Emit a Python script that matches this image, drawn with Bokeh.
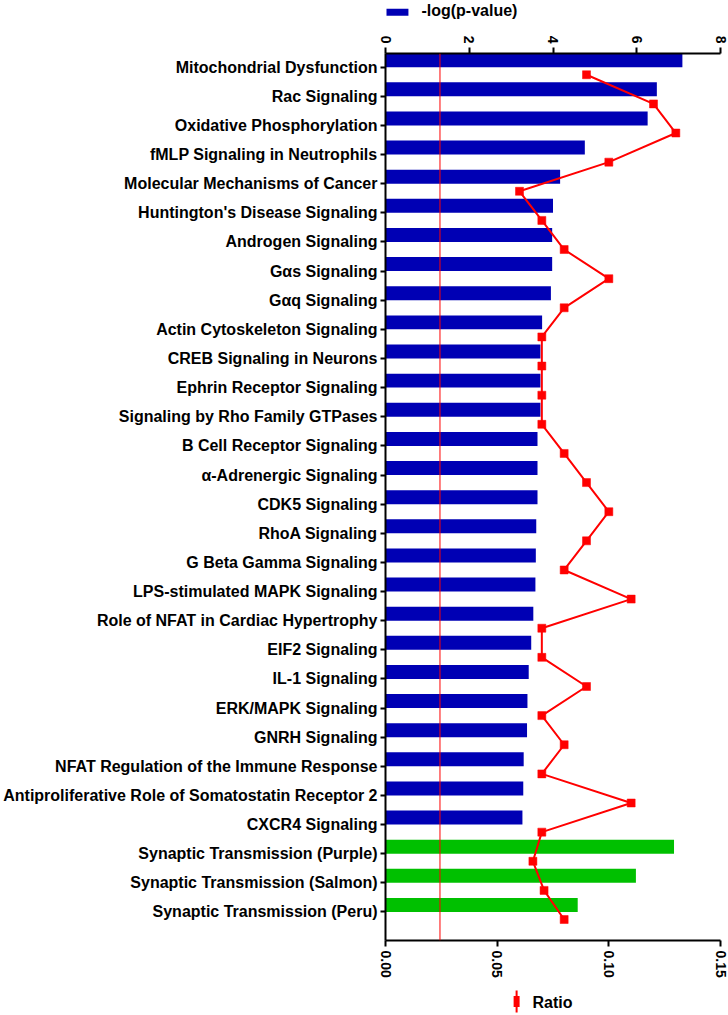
import math
import numpy as np
from bokeh.plotting import figure
from bokeh.models import Range1d, LinearAxis, FixedTicker, NumeralTickFormatter, Span, ColumnDataSource
from bokeh.layouts import column
from bokeh.embed import file_html
from bokeh.resources import INLINE
from bokeh.core.properties import value

# ---------------- data ----------------
pathways = [
    "Mitochondrial Dysfunction",
    "Rac Signaling",
    "Oxidative Phosphorylation",
    "fMLP Signaling in Neutrophils",
    "Molecular Mechanisms of Cancer",
    "Huntington's Disease Signaling",
    "Androgen Signaling",
    "G\u03b1s Signaling",
    "G\u03b1q Signaling",
    "Actin Cytoskeleton Signaling",
    "CREB Signaling in Neurons",
    "Ephrin Receptor Signaling",
    "Signaling by Rho Family GTPases",
    "B Cell Receptor Signaling",
    "\u03b1-Adrenergic Signaling",
    "CDK5 Signaling",
    "RhoA Signaling",
    "G Beta Gamma Signaling",
    "LPS-stimulated MAPK Signaling",
    "Role of NFAT in Cardiac Hypertrophy",
    "EIF2 Signaling",
    "IL-1 Signaling",
    "ERK/MAPK Signaling",
    "GNRH Signaling",
    "NFAT Regulation of the Immune Response",
    "Antiproliferative Role of Somatostatin Receptor 2",
    "CXCR4 Signaling",
    "Synaptic Transmission (Purple)",
    "Synaptic Transmission (Salmon)",
    "Synaptic Transmission (Peru)",
]
neg_log_p = [7.09, 6.48, 6.26, 4.76, 4.17, 4.00, 3.98, 3.98, 3.95, 3.74,
             3.70, 3.70, 3.70, 3.63, 3.63, 3.63, 3.60, 3.59, 3.58, 3.53,
             3.48, 3.42, 3.39, 3.38, 3.30, 3.29, 3.27, 6.89, 5.98, 4.59]
ratio = [0.09, 0.12, 0.13, 0.10, 0.06, 0.07, 0.08, 0.10, 0.08, 0.07,
         0.07, 0.07, 0.07, 0.08, 0.09, 0.10, 0.09, 0.08, 0.11, 0.07,
         0.07, 0.09, 0.07, 0.08, 0.07, 0.11, 0.07, 0.066, 0.071, 0.08]
kind = ["pathway"] * 27 + ["module"] * 3
threshold = 1.301  # -log10(0.05)
p_ticks = [0, 2, 4, 6, 8]
ratio_ticks = [0.0, 0.05, 0.10, 0.15]
legend_p = "-log(p-value)"
legend_ratio = "Ratio"

# ---------------- style ----------------
FONT = "Liberation Sans"
BLUE = "#0000B4"
GREEN = "#00C000"
RED = "#FF0000"
color_map = {"pathway": BLUE, "module": GREEN}

W = 728
BORDER_L = 384
BORDER_R = 8
TOP_LEG_H = 30
MAIN_H = 957
BOT_LEG_H = 26

n = len(pathways)
idx = np.arange(n)
src = ColumnDataSource(dict(
    y_bar=idx - 0.24,
    y_pt=idx + 0.26,
    nlp=neg_log_p,
    ratio=ratio,
    color=[color_map[k] for k in kind],
))

p = figure(width=W, height=MAIN_H, output_backend="svg", toolbar_location=None,
           x_range=Range1d(0, 8), y_range=Range1d(29.98, -0.47),
           x_axis_location="above",
           min_border_left=BORDER_L, min_border_right=BORDER_R,
           min_border_top=23, min_border_bottom=47)
p.extra_x_ranges = {"ratio": Range1d(0, 0.15)}
p.xgrid.visible = False
p.ygrid.visible = False
p.outline_line_color = None
p.background_fill_color = "white"
p.border_fill_color = "white"

p.hbar(y="y_bar", left=0, right="nlp", height=0.48, fill_color="color",
       line_color=None, source=src)
p.line(x="ratio", y="y_pt", x_range_name="ratio", line_color=RED,
       line_width=2, source=src)
p.scatter(x="ratio", y="y_pt", x_range_name="ratio", marker="square", size=8,
          fill_color=RED, line_color=RED, line_width=0.5, source=src)
p.add_layout(Span(location=threshold, dimension="height", line_color=RED,
                  line_width=1))

bottom = LinearAxis(x_range_name="ratio", ticker=FixedTicker(ticks=ratio_ticks),
                    formatter=NumeralTickFormatter(format="0.00"))
p.add_layout(bottom, "below")

top = p.xaxis[0]
top.ticker = FixedTicker(ticks=p_ticks)

for ax in (top, bottom):
    ax.major_label_orientation = -math.pi / 2
    ax.major_label_standoff = 4
    ax.major_tick_out = 6
    ax.major_tick_in = 0
    ax.minor_tick_out = 0
    ax.minor_tick_in = 0
    ax.axis_line_width = 2
    ax.major_tick_line_width = 2
    ax.major_label_text_font = FONT
    ax.major_label_text_font_style = "bold"
    ax.major_label_text_font_size = "14px"
    ax.major_label_text_color = "black"

ya = p.yaxis[0]
ya.ticker = FixedTicker(ticks=list(range(n)))
ya.major_label_overrides = {i: name for i, name in enumerate(pathways)}
ya.major_tick_out = 5
ya.major_tick_in = 0
ya.minor_tick_out = 0
ya.minor_tick_in = 0
ya.major_label_standoff = 3
ya.axis_line_width = 2
ya.major_tick_line_width = 2
ya.major_label_text_font = FONT
ya.major_label_text_font_style = "bold"
ya.major_label_text_font_size = "16px"
ya.major_label_text_color = "black"


def legend_fig(h, y0):
    # frame aligned with the main plot frame; ranges expressed in page pixels
    f = figure(width=W, height=h, output_backend="svg", toolbar_location=None,
               x_range=Range1d(BORDER_L, W - BORDER_R), y_range=Range1d(y0 + h, y0),
               min_border_left=BORDER_L, min_border_right=BORDER_R,
               min_border_top=0, min_border_bottom=0,
               x_axis_type=None, y_axis_type=None)
    f.xgrid.visible = False
    f.ygrid.visible = False
    f.outline_line_color = None
    f.background_fill_color = "white"
    f.border_fill_color = "white"
    return f


top_leg = legend_fig(TOP_LEG_H, 0)
top_leg.rect(x=[396], y=[11.7], width=22, height=7, fill_color=BLUE, line_color=None)
top_leg.text(x=[420], y=[9.5], text=[legend_p], text_font=value(FONT),
             text_font_style="bold", text_font_size="16px",
             text_baseline="middle", text_align="left", text_color="black")

y_bot = TOP_LEG_H + MAIN_H
bot_leg = legend_fig(BOT_LEG_H, y_bot)
bot_leg.segment(x0=[515.5], y0=[990], x1=[515.5], y1=[1012], line_color=RED, line_width=2)
bot_leg.rect(x=[515.5], y=[1001], width=6, height=11, fill_color=RED, line_color=None)
bot_leg.text(x=[531.5], y=[1002], text=[legend_ratio], text_font=value(FONT),
             text_font_style="bold", text_font_size="16px",
             text_baseline="middle", text_align="left", text_color="black")

layout = column(top_leg, p, bot_leg, spacing=0)
open("out.html", "w").write(file_html(layout, INLINE))
